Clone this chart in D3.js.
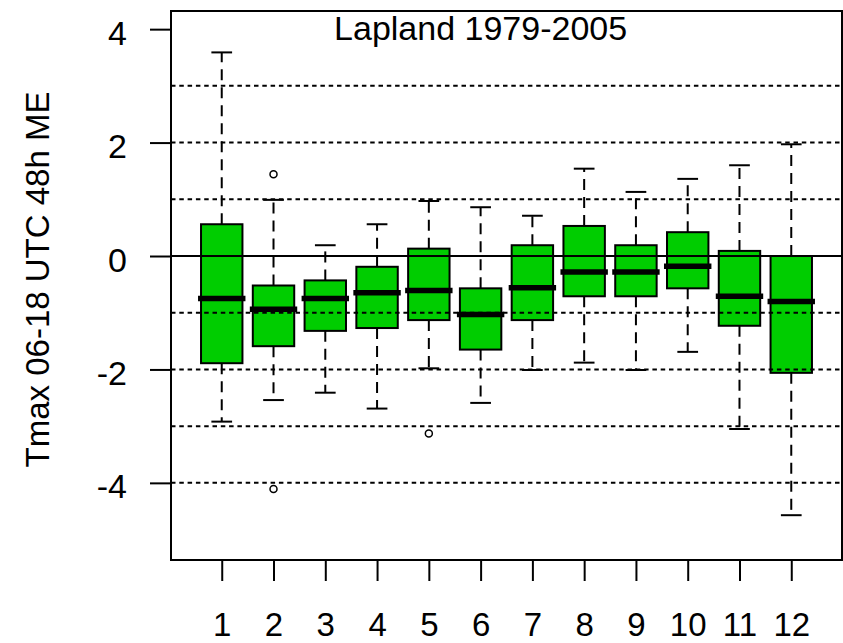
<!DOCTYPE html>
<html>
<head>
<meta charset="utf-8">
<script src="https://cdn.jsdelivr.net/npm/d3@7"></script>
<style>
  body { margin: 0; background: #fff; }
  text { font-family: "Liberation Sans", Arial, sans-serif; fill: #000; }
</style>
</head>
<body>
<div id="fig"></div>
<script>
const fig_width = 843
const fig_height = 643

// Monthly boxplot stats
const months = [1, 2, 3, 4, 5, 6, 7, 8, 9, 10, 11, 12]
const whisker_low  = [-2.92, -2.54, -2.41, -2.69, -1.98, -2.59, -2.01, -1.88, -2.01, -1.69, -3.05, -4.57]
const q1           = [-1.89, -1.59, -1.32, -1.27, -1.13, -1.65, -1.13, -0.71, -0.71, -0.57, -1.23, -2.06]
const medians      = [-0.75, -0.94, -0.75, -0.65, -0.61, -1.03, -0.56, -0.28, -0.28, -0.18, -0.71, -0.80]
const q3           = [ 0.56, -0.52, -0.43, -0.19,  0.13, -0.57,  0.19,  0.53,  0.19,  0.42,  0.09,  0.00]
const whisker_high = [ 3.59,  0.99,  0.19,  0.56,  0.97,  0.86,  0.71,  1.54,  1.13,  1.36,  1.60,  1.97]
const outliers = [
    {month: 2, value: 1.44},
    {month: 2, value: -4.11},
    {month: 5, value: -3.13}
]
const y_ticks = [-4, -2, 0, 2, 4]
const grid_dotted = [-4, -3, -2, -1, 1, 2, 3]
const title = "Lapland 1979-2005"
const y_label = "Tmax 06-18 UTC 48h ME"

const plot = {left: 171, right: 842, top: 11, bottom: 560}

let x = d3.scaleLinear().domain([0.02, 12.98]).range([plot.left, plot.right])
let y = d3.scaleLinear().domain([-5.36, 4.32]).range([plot.bottom, plot.top])

let box_half = x(1.4) - x(1)
let cap_half = x(1.2) - x(1)

let boxes = months.map((m, i) => ({
    month: m, lo: whisker_low[i], q1: q1[i], med: medians[i], q3: q3[i], hi: whisker_high[i]
}))

let fig = d3.select("#fig")
    .append("svg")
    .attr("width", fig_width)
    .attr("height", fig_height)

let g = fig.append("g")

// whiskers (dashed) and caps
g.selectAll("line.whisk-up")
    .data(boxes)
    .join("line")
    .attr("class", "whisk-up")
    .attr("x1", d => x(d.month)).attr("x2", d => x(d.month))
    .attr("y1", d => y(d.q3)).attr("y2", d => y(d.hi))
    .attr("stroke", "black").attr("stroke-width", 2)
    .attr("stroke-dasharray", "11,7")

g.selectAll("line.whisk-down")
    .data(boxes)
    .join("line")
    .attr("class", "whisk-down")
    .attr("x1", d => x(d.month)).attr("x2", d => x(d.month))
    .attr("y1", d => y(d.q1)).attr("y2", d => y(d.lo))
    .attr("stroke", "black").attr("stroke-width", 2)
    .attr("stroke-dasharray", "11,7")

g.selectAll("line.cap")
    .data(boxes.flatMap(d => [{month: d.month, v: d.hi}, {month: d.month, v: d.lo}]))
    .join("line")
    .attr("class", "cap")
    .attr("x1", d => x(d.month) - cap_half).attr("x2", d => x(d.month) + cap_half)
    .attr("y1", d => y(d.v)).attr("y2", d => y(d.v))
    .attr("stroke", "black").attr("stroke-width", 2)

// boxes
g.selectAll("rect.box")
    .data(boxes)
    .join("rect")
    .attr("class", "box")
    .attr("x", d => x(d.month) - box_half)
    .attr("width", 2 * box_half)
    .attr("y", d => y(d.q3))
    .attr("height", d => y(d.q1) - y(d.q3))
    .attr("fill", "#00cd00")
    .attr("stroke", "black")
    .attr("stroke-width", 2)

// medians
g.selectAll("line.median")
    .data(boxes)
    .join("line")
    .attr("class", "median")
    .attr("x1", d => x(d.month) - box_half - 3).attr("x2", d => x(d.month) + box_half + 3)
    .attr("y1", d => y(d.med)).attr("y2", d => y(d.med))
    .attr("stroke", "black").attr("stroke-width", 5.5)

// outliers
g.selectAll("circle.out")
    .data(outliers)
    .join("circle")
    .attr("class", "out")
    .attr("cx", d => x(d.month))
    .attr("cy", d => y(d.value))
    .attr("r", 3.5)
    .attr("fill", "none")
    .attr("stroke", "black")
    .attr("stroke-width", 1.5)

// grid lines drawn over the boxes, like abline() after boxplot()
g.selectAll("line.grid")
    .data(grid_dotted)
    .join("line")
    .attr("class", "grid")
    .attr("x1", plot.left).attr("x2", plot.right)
    .attr("y1", d => y(d)).attr("y2", d => y(d))
    .attr("stroke", "black").attr("stroke-width", 2)
    .attr("stroke-dasharray", "4.5,3.8")

g.append("line")
    .attr("x1", plot.left).attr("x2", plot.right)
    .attr("y1", y(0)).attr("y2", y(0))
    .attr("stroke", "black").attr("stroke-width", 2)

// frame
fig.append("rect")
    .attr("x", plot.left).attr("y", plot.top)
    .attr("width", plot.right - plot.left)
    .attr("height", plot.bottom - plot.top)
    .attr("fill", "none")
    .attr("stroke", "black")
    .attr("stroke-width", 2)

// axes (plain hyphen minus, as R prints it)
let y_axis = d3.axisLeft(y).tickValues(y_ticks).tickSize(21).tickPadding(23).tickFormat(d => String(d))
let y_g = fig.append("g").attr("transform", `translate(${plot.left},0)`).call(y_axis)
y_g.select(".domain").remove()
y_g.selectAll(".tick line").attr("stroke-width", 2)
y_g.selectAll(".tick text")
    .attr("font-size", "34px")
    .attr("font-family", "Liberation Sans, Arial, sans-serif")
    .attr("dy", "15px")

let x_axis = d3.axisBottom(x).tickValues(months).tickSize(21).tickFormat(d => String(d))
let x_g = fig.append("g").attr("transform", `translate(0,${plot.bottom})`).call(x_axis)
x_g.select(".domain").remove()
x_g.selectAll(".tick line").attr("stroke-width", 2)
x_g.selectAll(".tick text")
    .attr("font-size", "33px")
    .attr("font-family", "Liberation Sans, Arial, sans-serif")
    .attr("y", 0)
    .attr("dy", "76px")

// title inside the plot and y label
fig.append("text")
    .attr("x", x(6))
    .attr("y", 40)
    .attr("text-anchor", "middle")
    .attr("font-size", "34px")
    .text(title)

fig.append("text")
    .attr("transform", `translate(49,${(plot.top + plot.bottom) / 2 - 6}) rotate(-90)`)
    .attr("text-anchor", "middle")
    .attr("font-size", "33px")
    .text(y_label)
</script>
</body>
</html>
